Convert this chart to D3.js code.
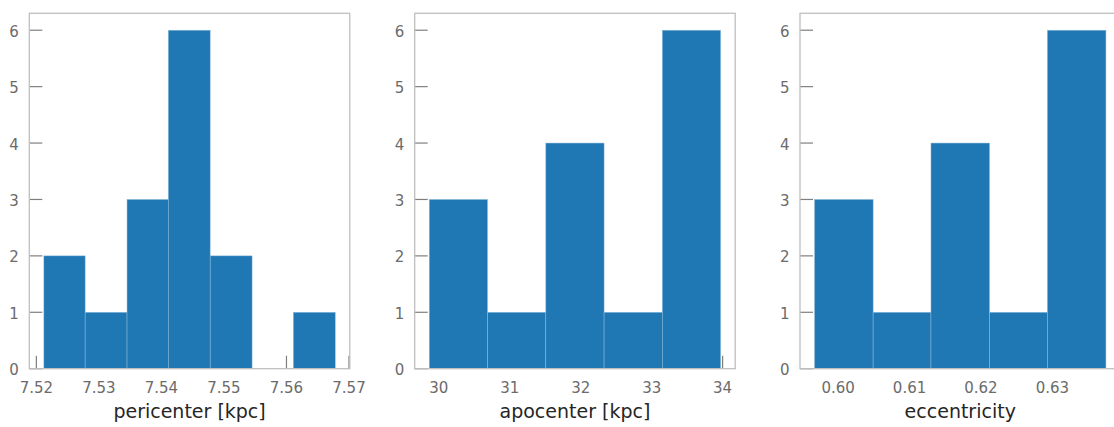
<!DOCTYPE html>
<html>
<head>
  <meta charset="UTF-8">
  <title>Orbit histograms</title>
  <style>
    body { margin: 0; background: #fff; }
    svg { display: block; font-family: "DejaVu Sans", sans-serif; }
  </style>
</head>
<body>
<svg></svg>
<script src="https://d3js.org/d3.v7.min.js"></script>
<script>
    let width = 1114, height = 427;

    // histogram data (bin edges + counts)
    var periEdges = [7.5212, 7.5278, 7.5345, 7.5411, 7.5478, 7.5545, 7.5611, 7.5678];
    var periCounts = [2, 1, 3, 6, 2, 0, 1];
    var periTicks = [7.52, 7.53, 7.54, 7.55, 7.56, 7.57];

    var apoEdges = [29.865, 30.686, 31.508, 32.329, 33.150, 33.972];
    var apoCounts = [3, 1, 4, 1, 6];
    var apoTicks = [30, 31, 32, 33, 34];

    var eccEdges = [0.5967, 0.6049, 0.6130, 0.6212, 0.6293, 0.6375];
    var eccCounts = [3, 1, 4, 1, 6];
    var eccTicks = [0.60, 0.61, 0.62, 0.63];

    var yTicks = [0, 1, 2, 3, 4, 5, 6];

    var panels = [
        {edges: periEdges, counts: periCounts, ticks: periTicks, fmt: d3.format(".2f"), label: "pericenter [kpc]", left: 29.3},
        {edges: apoEdges, counts: apoCounts, ticks: apoTicks, fmt: d3.format("d"), label: "apocenter [kpc]", left: 414.7},
        {edges: eccEdges, counts: eccCounts, ticks: eccTicks, fmt: d3.format(".2f"), label: "eccentricity", left: 800}
    ];

    // plot box (shared by the three panels)
    var pw = 320.5, plotTop = 13.3, plotBottom = 368.7;
    var tickLen = 13;

    let svg = d3.select("svg").attr("width", width).attr("height", height);

    panels.forEach(function(p) {
        var lo = d3.min(p.edges), hi = d3.max(p.edges);
        var pad = (hi - lo) * 0.05;
        var x = d3.scaleLinear().domain([lo - pad, hi + pad]).range([p.left, p.left + pw]);
        var y = d3.scaleLinear().domain([0, 6.3]).range([plotBottom, plotTop]);

        var g = svg.append("g");

        // ticks first (axis below the bars)
        g.selectAll("line.yt")
            .data(yTicks)
            .enter().append("line")
            .attr("x1", p.left).attr("x2", p.left + tickLen)
            .attr("y1", d => y(d)).attr("y2", d => y(d))
            .attr("stroke", "#7f7f7f").attr("stroke-width", 1.2);

        g.selectAll("line.xt")
            .data(p.ticks)
            .enter().append("line")
            .attr("x1", d => x(d)).attr("x2", d => x(d))
            .attr("y1", plotBottom).attr("y2", plotBottom - tickLen)
            .attr("stroke", "#7f7f7f").attr("stroke-width", 1.2);

        // bars
        g.selectAll("rect.bar")
            .data(p.counts)
            .enter().append("rect")
            .attr("class", "bar")
            .attr("x", (d, i) => x(p.edges[i]))
            .attr("width", (d, i) => x(p.edges[i + 1]) - x(p.edges[i]))
            .attr("y", d => y(d))
            .attr("height", d => y(0) - y(d))
            .attr("fill", "#1f77b4")
            .attr("stroke", d => d > 0 ? "#8fbbdc" : "none")
            .attr("stroke-width", 0.5);

        // frame
        g.append("rect")
            .attr("x", p.left).attr("y", plotTop)
            .attr("width", pw).attr("height", plotBottom - plotTop)
            .attr("fill", "none")
            .attr("stroke", "#bfbfbf").attr("stroke-width", 1.3);

        // tick labels
        g.selectAll("text.yl")
            .data(yTicks)
            .enter().append("text")
            .attr("x", p.left - 10.5)
            .attr("y", d => y(d) + 1.5)
            .attr("text-anchor", "end")
            .attr("dominant-baseline", "central")
            .attr("font-size", "15px")
            .attr("fill", "#6b6b6b")
            .text(d => d);

        g.selectAll("text.xl")
            .data(p.ticks)
            .enter().append("text")
            .attr("x", d => x(d))
            .attr("y", 393)
            .attr("text-anchor", "middle")
            .attr("font-size", "15px")
            .attr("fill", "#6b6b6b")
            .text(d => p.fmt(d));

        g.append("text")
            .attr("x", p.left + pw / 2)
            .attr("y", 418)
            .attr("text-anchor", "middle")
            .attr("font-size", "19px")
            .attr("fill", "#262626")
            .text(p.label);
    });
</script>
</body>
</html>
